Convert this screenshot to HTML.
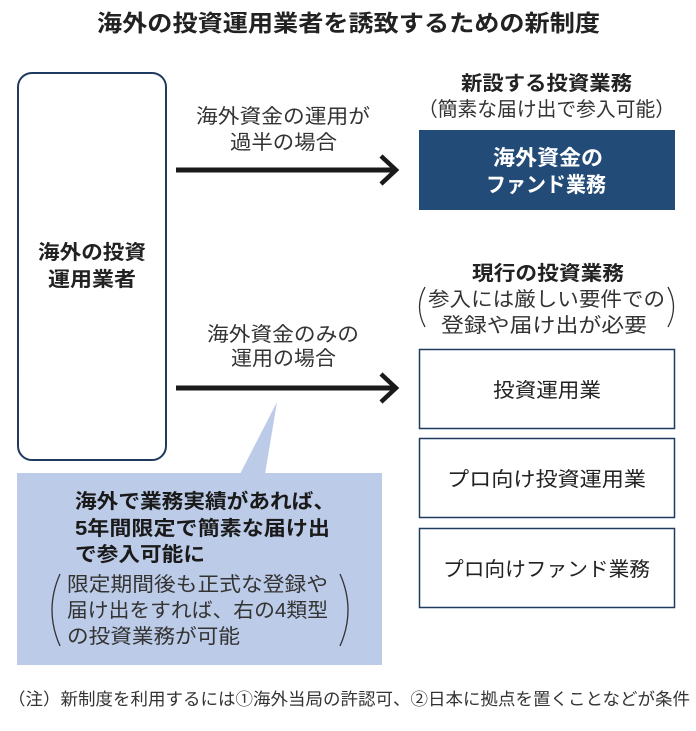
<!DOCTYPE html>
<html><head><meta charset="utf-8"><style>
html,body{margin:0;padding:0;background:#fff;}
svg text{font-family:"Liberation Sans","Noto Sans CJK JP",sans-serif;}
</style></head><body>
<svg width="696" height="726" viewBox="0 0 696 726" xmlns="http://www.w3.org/2000/svg">
<rect width="696" height="726" fill="#fff"/>
<text x="97" y="31" font-size="23" font-weight="bold" fill="#222" textLength="503" lengthAdjust="spacingAndGlyphs">海外の投資運用業者を誘致するための新制度</text>

<rect x="18" y="73" width="148" height="387" rx="14" fill="#fff" stroke="#1f3a60" stroke-width="2"/>
<text x="38" y="259" font-size="20" font-weight="bold" fill="#222" textLength="108" lengthAdjust="spacingAndGlyphs">海外の投資</text>
<text x="48" y="286" font-size="20" font-weight="bold" fill="#222" textLength="88" lengthAdjust="spacingAndGlyphs">運用業者</text>

<text x="196" y="123" font-size="20" fill="#333" textLength="174" lengthAdjust="spacingAndGlyphs">海外資金の運用が</text>
<text x="230" y="149" font-size="20" fill="#333" textLength="107" lengthAdjust="spacingAndGlyphs">過半の場合</text>
<line x1="176" y1="170" x2="395" y2="170" stroke="#1a1a1a" stroke-width="5"/>
<polyline points="381,156 396,170 381,184" fill="none" stroke="#1a1a1a" stroke-width="4.5"/>

<text x="207" y="341" font-size="20" fill="#333" textLength="152" lengthAdjust="spacingAndGlyphs">海外資金のみの</text>
<text x="231" y="365" font-size="20" fill="#333" textLength="105" lengthAdjust="spacingAndGlyphs">運用の場合</text>
<line x1="176" y1="388" x2="395" y2="388" stroke="#1a1a1a" stroke-width="5"/>
<polyline points="381,374 396,388 381,402" fill="none" stroke="#1a1a1a" stroke-width="4.5"/>

<text x="461" y="90" font-size="20" font-weight="bold" fill="#222" textLength="171" lengthAdjust="spacingAndGlyphs">新設する投資業務</text>
<text x="418" y="116" font-size="20" fill="#333" textLength="257" lengthAdjust="spacingAndGlyphs">（簡素な届け出で参入可能）</text>
<rect x="419" y="130" width="256" height="80" fill="#234b78"/>
<text x="493" y="165" font-size="21" font-weight="bold" fill="#fff" textLength="110" lengthAdjust="spacingAndGlyphs">海外資金の</text>
<text x="486" y="192" font-size="21" font-weight="bold" fill="#fff" textLength="120" lengthAdjust="spacingAndGlyphs">ファンド業務</text>

<text x="472" y="280" font-size="20" font-weight="bold" fill="#222" textLength="152" lengthAdjust="spacingAndGlyphs">現行の投資業務</text>
<text x="428" y="306" font-size="20" fill="#333" textLength="237" lengthAdjust="spacingAndGlyphs">参入には厳しい要件での</text>
<text x="441" y="332" font-size="20" fill="#333" textLength="206" lengthAdjust="spacingAndGlyphs">登録や届け出が必要</text>
<path d="M425,287 Q414,307 425,327" fill="none" stroke="#333" stroke-width="1.3"/>
<path d="M668,287 Q679,307 668,327" fill="none" stroke="#333" stroke-width="1.3"/>

<rect x="419.5" y="349.5" width="255" height="79" fill="#fff" stroke="#1f3a60" stroke-width="1.5"/>
<text x="493" y="397" font-size="20" fill="#222" textLength="108" lengthAdjust="spacingAndGlyphs">投資運用業</text>
<rect x="419.5" y="438.5" width="255" height="79" fill="#fff" stroke="#1f3a60" stroke-width="1.5"/>
<text x="447" y="486" font-size="20" fill="#222" textLength="199" lengthAdjust="spacingAndGlyphs">プロ向け投資運用業</text>
<rect x="419.5" y="528.5" width="255" height="79" fill="#fff" stroke="#1f3a60" stroke-width="1.5"/>
<text x="443" y="576" font-size="20" fill="#222" textLength="207" lengthAdjust="spacingAndGlyphs">プロ向けファンド業務</text>

<rect x="17" y="473" width="365" height="192" fill="#bccbe7"/>
<polygon points="240,474 265,474 277,402" fill="#bccbe7"/>
<text x="75" y="508" font-size="20" font-weight="bold" fill="#1a1a1a" textLength="260" lengthAdjust="spacingAndGlyphs">海外で業務実績があれば、</text>
<text x="75" y="535" font-size="20" font-weight="bold" fill="#1a1a1a" textLength="255" lengthAdjust="spacingAndGlyphs">5年間限定で簡素な届け出</text>
<text x="75" y="561" font-size="20" font-weight="bold" fill="#1a1a1a" textLength="130" lengthAdjust="spacingAndGlyphs">で参入可能に</text>
<text x="67" y="591" font-size="20" fill="#333" textLength="261" lengthAdjust="spacingAndGlyphs">限定期間後も正式な登録や</text>
<text x="67" y="617" font-size="20" fill="#333" textLength="261" lengthAdjust="spacingAndGlyphs">届け出をすれば、右の4類型</text>
<text x="67" y="643" font-size="20" fill="#333" textLength="173" lengthAdjust="spacingAndGlyphs">の投資業務が可能</text>
<path d="M60,574 Q44,610 60,646" fill="none" stroke="#333" stroke-width="1.3"/>
<path d="M340,574 Q356,610 340,646" fill="none" stroke="#333" stroke-width="1.3"/>

<text x="8" y="705" font-size="17" fill="#333" textLength="682" lengthAdjust="spacingAndGlyphs">（注）新制度を利用するには①海外当局の許認可、②日本に拠点を置くことなどが条件</text>
</svg>
</body></html>
